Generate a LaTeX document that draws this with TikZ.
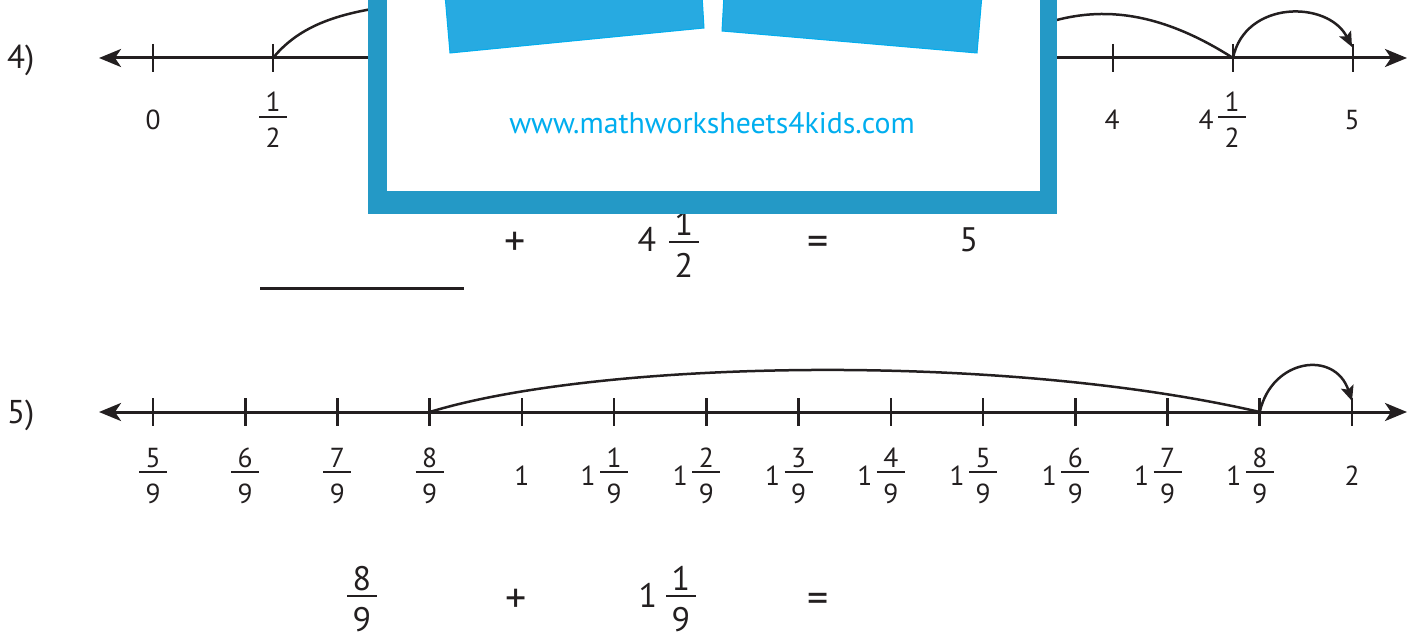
\documentclass[tikz,border=0pt]{standalone}
\usepackage{fontspec}
\setmainfont{PT Sans}
\usetikzlibrary{arrows.meta}
\definecolor{ink}{HTML}{231F20}
\definecolor{boxblue}{HTML}{2499C6}
\definecolor{bookblue}{HTML}{27AAE1}
\definecolor{bookedge}{HTML}{00AEEF}
\definecolor{urlblue}{HTML}{00AEEF}
\tikzset{
  lab/.style={font=\fontsize{27.5}{27.5}\selectfont, text=ink, inner sep=0pt, anchor=base},
  eqn/.style={font=\fontsize{34}{34}\selectfont, text=ink, inner sep=0pt, anchor=base},
  opr/.style={font=\fontsize{42}{42}\selectfont, text=ink, inner sep=0pt, anchor=base},
  qnum/.style={font=\fontsize{33}{33}\selectfont, text=ink, inner sep=0pt, anchor=base west},
  fbar/.style={draw=ink, line width=2.3pt},
  axisline/.style={draw=ink, line width=3pt,
    {Stealth[length=22pt,width=18pt,inset=6pt]}-{Stealth[length=22pt,width=18pt,inset=6pt]}},
  tickmark/.style={draw=ink, line width=2.6pt},
  jump/.style={draw=ink, line width=2.5pt},
  jumparrow/.style={draw=ink, line width=2.5pt, -{Stealth[length=15pt,width=13pt,inset=3pt]}},
  answerline/.style={draw=ink, line width=3pt},
}
% line-label fraction: name, x, bar y, numerator, denominator
\newcommand\lfrac[5]{%
  \node[lab] (#1n) at (#2,#3-5) {#4};
  \draw[fbar] (#2-14,#3) -- (#2+14,#3);
  \node[lab] (#1d) at (#2,#3+31) {#5};
}
% equation fraction
\newcommand\efrac[5]{%
  \node[eqn] (#1n) at (#2,#3-6) {#4};
  \draw[fbar] (#2-15,#3) -- (#2+15,#3);
  \node[eqn] (#1d) at (#2,#3+35) {#5};
}
\begin{document}
\begin{tikzpicture}[x=1pt,y=-1pt]
\useasboundingbox (0,0) rectangle (1417,639);
\clip (0,0) rectangle (1417,639);

% ---------------- problem 4 ----------------
\node[qnum] (q4) at (7,69) {4)};
\coordinate (l4) at (99,58);
\coordinate (r4) at (1407,58);
\draw[axisline] (l4) -- (r4);
\foreach \i in {0,...,10} {
  \pgfmathsetmacro\xx{153+120*\i}
  \coordinate (a\i) at (\xx,58);
  \draw[tickmark] ([yshift=14pt]a\i) -- ([yshift=-14pt]a\i);
}
\node[lab] (t0) at (153,130) {0};
\lfrac{h1}{273}{117}{1}{2}
\node[lab] (t8) at (1112,130) {4};
\node[lab] (t9w) at (1206,130) {4};
\lfrac{h9}{1232}{117}{1}{2}
\node[lab] (t10) at (1352,130) {5};

\coordinate (p4a) at (400,5);
\coordinate (p4b) at (1040,25);
\draw[jump] (a1) .. controls (300,25) and (340,12) .. (p4a) -- (p4b)
  .. controls (1090,8) and (1150,5) .. (a9);
\coordinate (e4) at (1352,47);
\draw[jumparrow] (a9) .. controls (1245,0) and (1328,0) .. (e4);

% equation 4
\draw[answerline] (260,289) -- (464,289);
\node[opr] (plus4) at (515,256) {+};
\node[eqn] (w4) at (647,252) {4};
\efrac{g4}{684}{242}{1}{2}
\node[opr] (eq4) at (818,256) {=};
\node[eqn] (res4) at (969,252) {5};

% ---------------- watermark box ----------------
\fill[boxblue] (368,-10) rectangle (1057,214);
\fill[white] (387,-10) rectangle (1040,191);
\filldraw[fill=bookblue, draw=bookedge, line width=1pt]
  (445,-5) -- (450,53) -- (704,28) -- (702,-5) -- cycle;
\filldraw[fill=bookblue, draw=bookedge, line width=1pt]
  (724,-5) -- (722,31) -- (977,53) -- (982,-5) -- cycle;
\node[font=\fontsize{29.8}{29.8}\selectfont, text=urlblue, inner sep=0pt] (url) at (712,123) {www.mathworksheets4kids.com};

% ---------------- problem 5 ----------------
\node[qnum] (q5) at (7,423) {5)};
\coordinate (l5) at (99,412);
\coordinate (r5) at (1407,412);
\draw[axisline] (l5) -- (r5);
\foreach \i in {0,...,13} {
  \pgfmathsetmacro\xx{153+92.23*\i}
  \coordinate (b\i) at (\xx,412);
  \draw[tickmark] ([yshift=14pt]b\i) -- ([yshift=-14pt]b\i);
}
\lfrac{s0}{153}{472}{5}{9}
\lfrac{s1}{245.23}{472}{6}{9}
\lfrac{s2}{337.46}{472}{7}{9}
\lfrac{s3}{429.69}{472}{8}{9}
\node[lab] (s4) at (521.92,485) {1};
\foreach \k in {1,...,8} {
  \pgfmathsetmacro\xx{153+92.23*(\k+4)}
  \node[lab] (m\k w) at (\xx-26,485) {1};
  \lfrac{m\k}{\xx}{472}{\k}{9}
}
\node[lab] (s13) at (1352,485) {2};

\draw[jump] (b3) .. controls (600,360) and (1000,352) .. (b12);
\coordinate (e5) at (1352,401);
\draw[jumparrow] (b12) .. controls (1272,358) and (1335,350) .. (e5);

% equation 5
\efrac{f5}{362}{596}{8}{9}
\node[opr] (plus5) at (516,612) {+};
\node[eqn] (w5) at (648,607) {1};
\efrac{g5}{681}{596}{1}{9}
\node[opr] (eq5) at (818,612) {=};
\end{tikzpicture}
\end{document}
